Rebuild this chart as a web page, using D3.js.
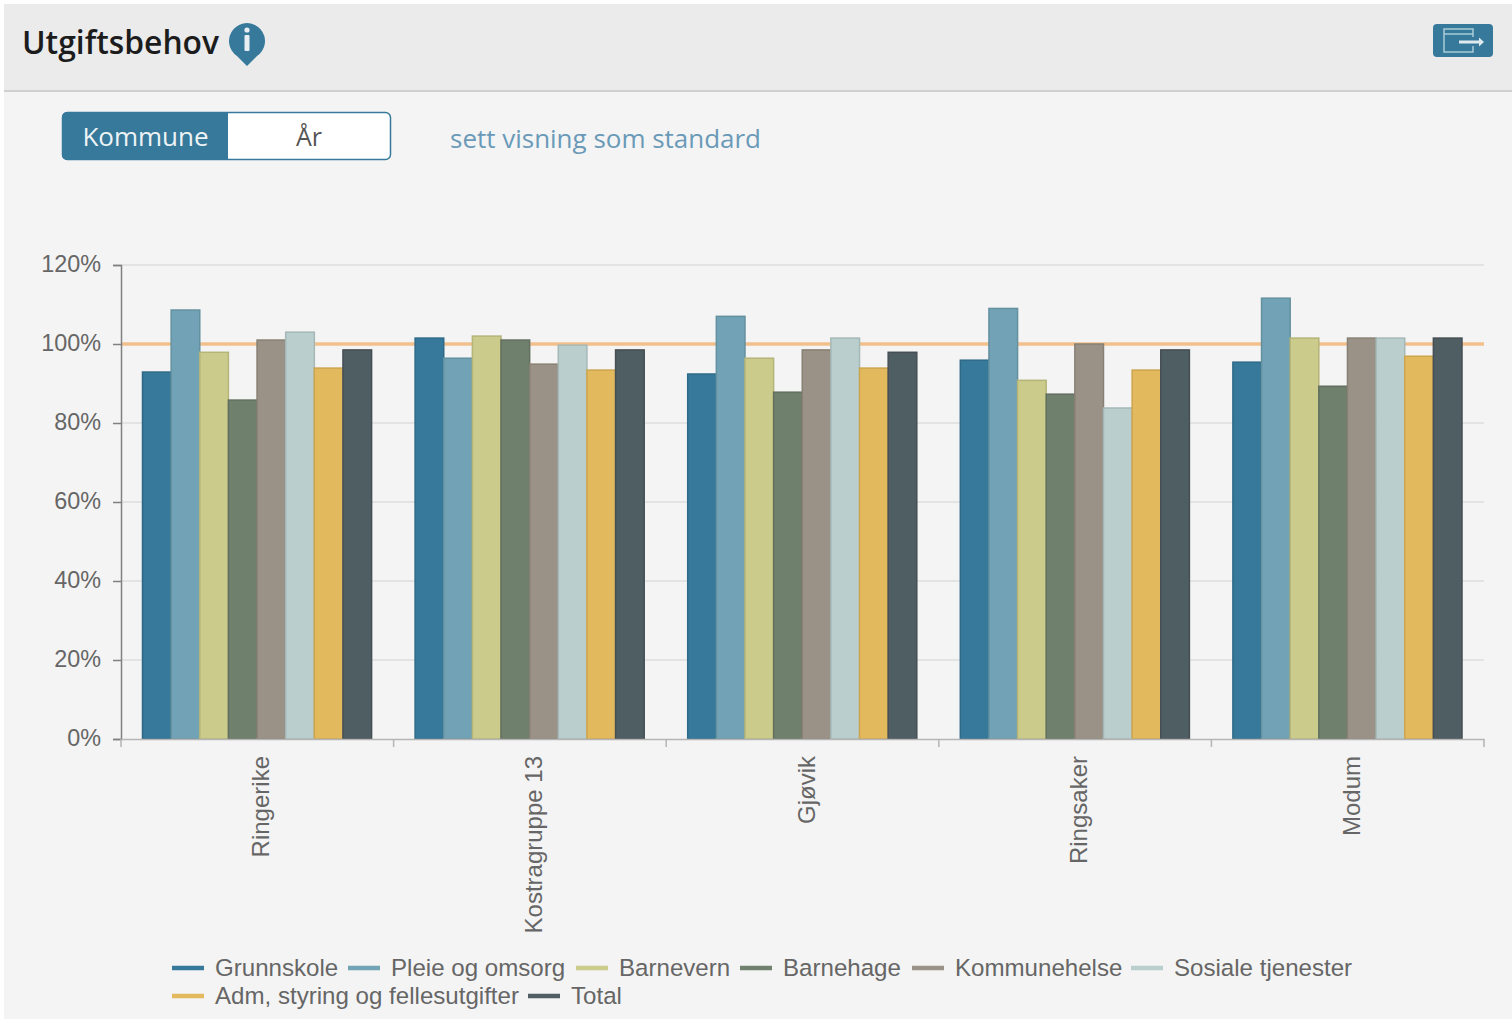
<!DOCTYPE html>
<html>
<head>
<meta charset="utf-8">
<script src="https://cdn.jsdelivr.net/npm/d3@7"></script>
<style>
html, body { margin: 0; padding: 0; background: #fff; }
svg { display: block; }
.title { font-family: "Open Sans", sans-serif; }
.chart text { font-family: "Liberation Sans", Arial, sans-serif; fill: #666; }
</style>
</head>
<body>
<svg id="svg"></svg>
<script>
const width = 1512;
const height = 1019;

const kommuner = ["Ringerike", "Kostragruppe 13", "Gjøvik", "Ringsaker", "Modum"];
const serier = ["Grunnskole", "Pleie og omsorg", "Barnevern", "Barnehage", "Kommunehelse", "Sosiale tjenester", "Adm, styring og fellesutgifter", "Total"];
const farger = ["#36799b", "#72a2b6", "#cbcb8b", "#6f806c", "#9a9286", "#bacecd", "#e2b95c", "#4f5e63"];
const kanter = ["#2e6a88", "#64919f", "#b5b57a", "#626f5f", "#888073", "#a5b8b7", "#cda54f", "#454f54"];

const grunnskole = [92.9, 101.5, 92.4, 95.9, 95.4];
const pleie = [108.6, 96.4, 107, 109, 111.6];
const barnevern = [97.9, 102, 96.4, 90.8, 101.5];
const barnehage = [85.8, 101, 87.8, 87.3, 89.3];
const kommunehelse = [101, 94.9, 98.5, 100, 101.5];
const sosiale = [103, 99.7, 101.5, 83.8, 101.5];
const adm = [93.9, 93.4, 93.9, 93.4, 96.9];
const total = [98.5, 98.5, 97.9, 98.5, 101.5];
const verdier = [grunnskole, pleie, barnevern, barnehage, kommunehelse, sosiale, adm, total];

const yTicks = [0, 20, 40, 60, 80, 100, 120];
const referanse = 100;

let svg = d3.select("#svg").attr("width", width).attr("height", height);

// page + header
svg.append("rect").attr("x", 4).attr("y", 4).attr("width", width - 4).attr("height", height - 4).attr("fill", "#f4f4f4");
svg.append("rect").attr("x", 4).attr("y", 4).attr("width", width - 4).attr("height", 86).attr("fill", "#ebebeb");
svg.append("rect").attr("x", 4).attr("y", 90).attr("width", width - 4).attr("height", 2).attr("fill", "#cfcfcf");

svg.append("text").attr("class", "title")
    .attr("x", 22).attr("y", 54)
    .attr("font-size", 32).attr("font-weight", 600).attr("fill", "#1c1c1c")
    .attr("textLength", 197).attr("lengthAdjust", "spacingAndGlyphs")
    .text("Utgiftsbehov");

// info pin
svg.append("path")
    .attr("d", "M247,66 L237,56 A18,18 0 1 1 257,56 Z")
    .attr("fill", "#36799b");
svg.append("rect").attr("x", 244.5).attr("y", 35).attr("width", 5).attr("height", 16).attr("rx", 1).attr("fill", "#e8eef1");
svg.append("circle").attr("cx", 247).attr("cy", 30).attr("r", 2.6).attr("fill", "#e8eef1");

// export button
svg.append("rect").attr("x", 1433).attr("y", 24).attr("width", 60).attr("height", 33).attr("rx", 4).attr("fill", "#36799b");
svg.append("path")
    .attr("d", "M1473,46 V52 H1444 V29 H1473 V37 M1444,34 H1473")
    .attr("fill", "none").attr("stroke", "#a9cbd9").attr("stroke-width", 1.5);
svg.append("path")
    .attr("d", "M1459,42 H1480")
    .attr("stroke", "#dfeaef").attr("stroke-width", 3);
svg.append("path").attr("d", "M1479,37.5 L1484,42 L1479,46.5 Z").attr("fill", "#dfeaef");

// toggle
svg.append("rect").attr("x", 62.5).attr("y", 112.5).attr("width", 328).attr("height", 47).attr("rx", 5)
    .attr("fill", "#fff").attr("stroke", "#36799b").attr("stroke-width", 1.5);
svg.append("path")
    .attr("d", "M228,112 H67 A5,5 0 0 0 62,117 V155 A5,5 0 0 0 67,160 H228 Z")
    .attr("fill", "#36799b");
svg.append("text").attr("class", "title").attr("x", 145.5).attr("y", 146)
    .attr("text-anchor", "middle").attr("font-size", 26).attr("font-weight", 500).attr("fill", "#eef3f5").text("Kommune");
svg.append("text").attr("class", "title").attr("x", 309).attr("y", 146)
    .attr("text-anchor", "middle").attr("font-size", 25).attr("fill", "#555").text("År");
svg.append("text").attr("class", "title").attr("x", 450).attr("y", 148)
    .attr("font-size", 25.5).attr("fill", "#6a9ab8")
    .attr("textLength", 311).attr("lengthAdjust", "spacingAndGlyphs")
    .text("sett visning som standard");

// chart
let chart = svg.append("g").attr("class", "chart");

let x = d3.scaleBand().domain(kommuner).range([121, 1484]).paddingInner(0).paddingOuter(0);
let y = d3.scaleLinear().domain([0, 120]).range([739, 265]);
let x1 = d3.scaleBand().domain(d3.range(serier.length)).range([21.5, x.bandwidth() - 22]);

chart.append("g").selectAll("line").data(yTicks.slice(1)).join("line")
    .attr("x1", 121).attr("x2", 1484)
    .attr("y1", d => y(d)).attr("y2", d => y(d))
    .attr("stroke", "#e3e3e3").attr("stroke-width", 2);

chart.append("line")
    .attr("x1", 121).attr("x2", 1484)
    .attr("y1", y(referanse)).attr("y2", y(referanse))
    .attr("stroke", "#f2c08c").attr("stroke-width", 3.5);

let grupper = chart.append("g").selectAll("g").data(kommuner).join("g")
    .attr("transform", d => "translate(" + x(d) + ",0)");

grupper.selectAll("rect")
    .data((d, i) => verdier.map((s, j) => ({ serie: j, verdi: s[i] })))
    .join("rect")
    .attr("x", d => x1(d.serie))
    .attr("width", x1.bandwidth())
    .attr("y", d => y(d.verdi))
    .attr("height", d => y(0) - y(d.verdi))
    .attr("fill", d => farger[d.serie])
    .attr("stroke", d => kanter[d.serie])
    .attr("stroke-width", 1.5);

// axes
let yAxis = chart.append("g").attr("transform", "translate(121,0)")
    .call(d3.axisLeft(y).tickValues(yTicks).tickFormat(d => d + "%").tickSize(8).tickPadding(12));
let xAxis = chart.append("g").attr("transform", "translate(0,739)")
    .call(d3.axisBottom(x).tickSize(0).tickPadding(0));

yAxis.select(".domain").attr("stroke", "#808080").attr("stroke-width", 1.5);
yAxis.selectAll(".tick line").attr("stroke", "#808080").attr("stroke-width", 1.5);
yAxis.selectAll("text").attr("font-size", 23.4).attr("dy", "0.27em").attr("font-family", "'Liberation Sans', Arial, sans-serif").attr("fill", "#666");

xAxis.select(".domain").attr("stroke", "#b5b5b5").attr("stroke-width", 1.5);
xAxis.selectAll("text")
    .attr("font-size", 24)
    .attr("font-family", "'Liberation Sans', Arial, sans-serif")
    .attr("fill", "#666")
    .attr("text-anchor", "end")
    .attr("dy", null)
    .attr("y", 0)
    .attr("transform", "translate(12,17) rotate(-90)");

// band edge ticks
xAxis.append("g").selectAll("line")
    .data(kommuner.map(d => x(d)).concat([1484]))
    .join("line")
    .attr("x1", d => d).attr("x2", d => d)
    .attr("y1", 0).attr("y2", 8)
    .attr("stroke", "#b5b5b5").attr("stroke-width", 1.5);

// legend
const legendeRader = [[0, 1, 2, 3, 4, 5], [6, 7]];
const legendeY = [968, 996];
const legendeX = [[172, 348, 576, 740, 912, 1131], [172, 528]];

legendeRader.forEach((rad, r) => {
    let g = chart.append("g").selectAll("g").data(rad).join("g")
        .attr("transform", (d, i) => "translate(" + legendeX[r][i] + "," + legendeY[r] + ")");
    g.append("line").attr("x1", 0).attr("x2", 32)
        .attr("stroke", d => farger[d]).attr("stroke-width", 4.5);
    g.append("text").attr("x", 43).attr("y", 8)
        .attr("font-size", 24.1)
        .attr("fill", "#666")
        .text(d => serier[d]);
});
</script>
</body>
</html>
